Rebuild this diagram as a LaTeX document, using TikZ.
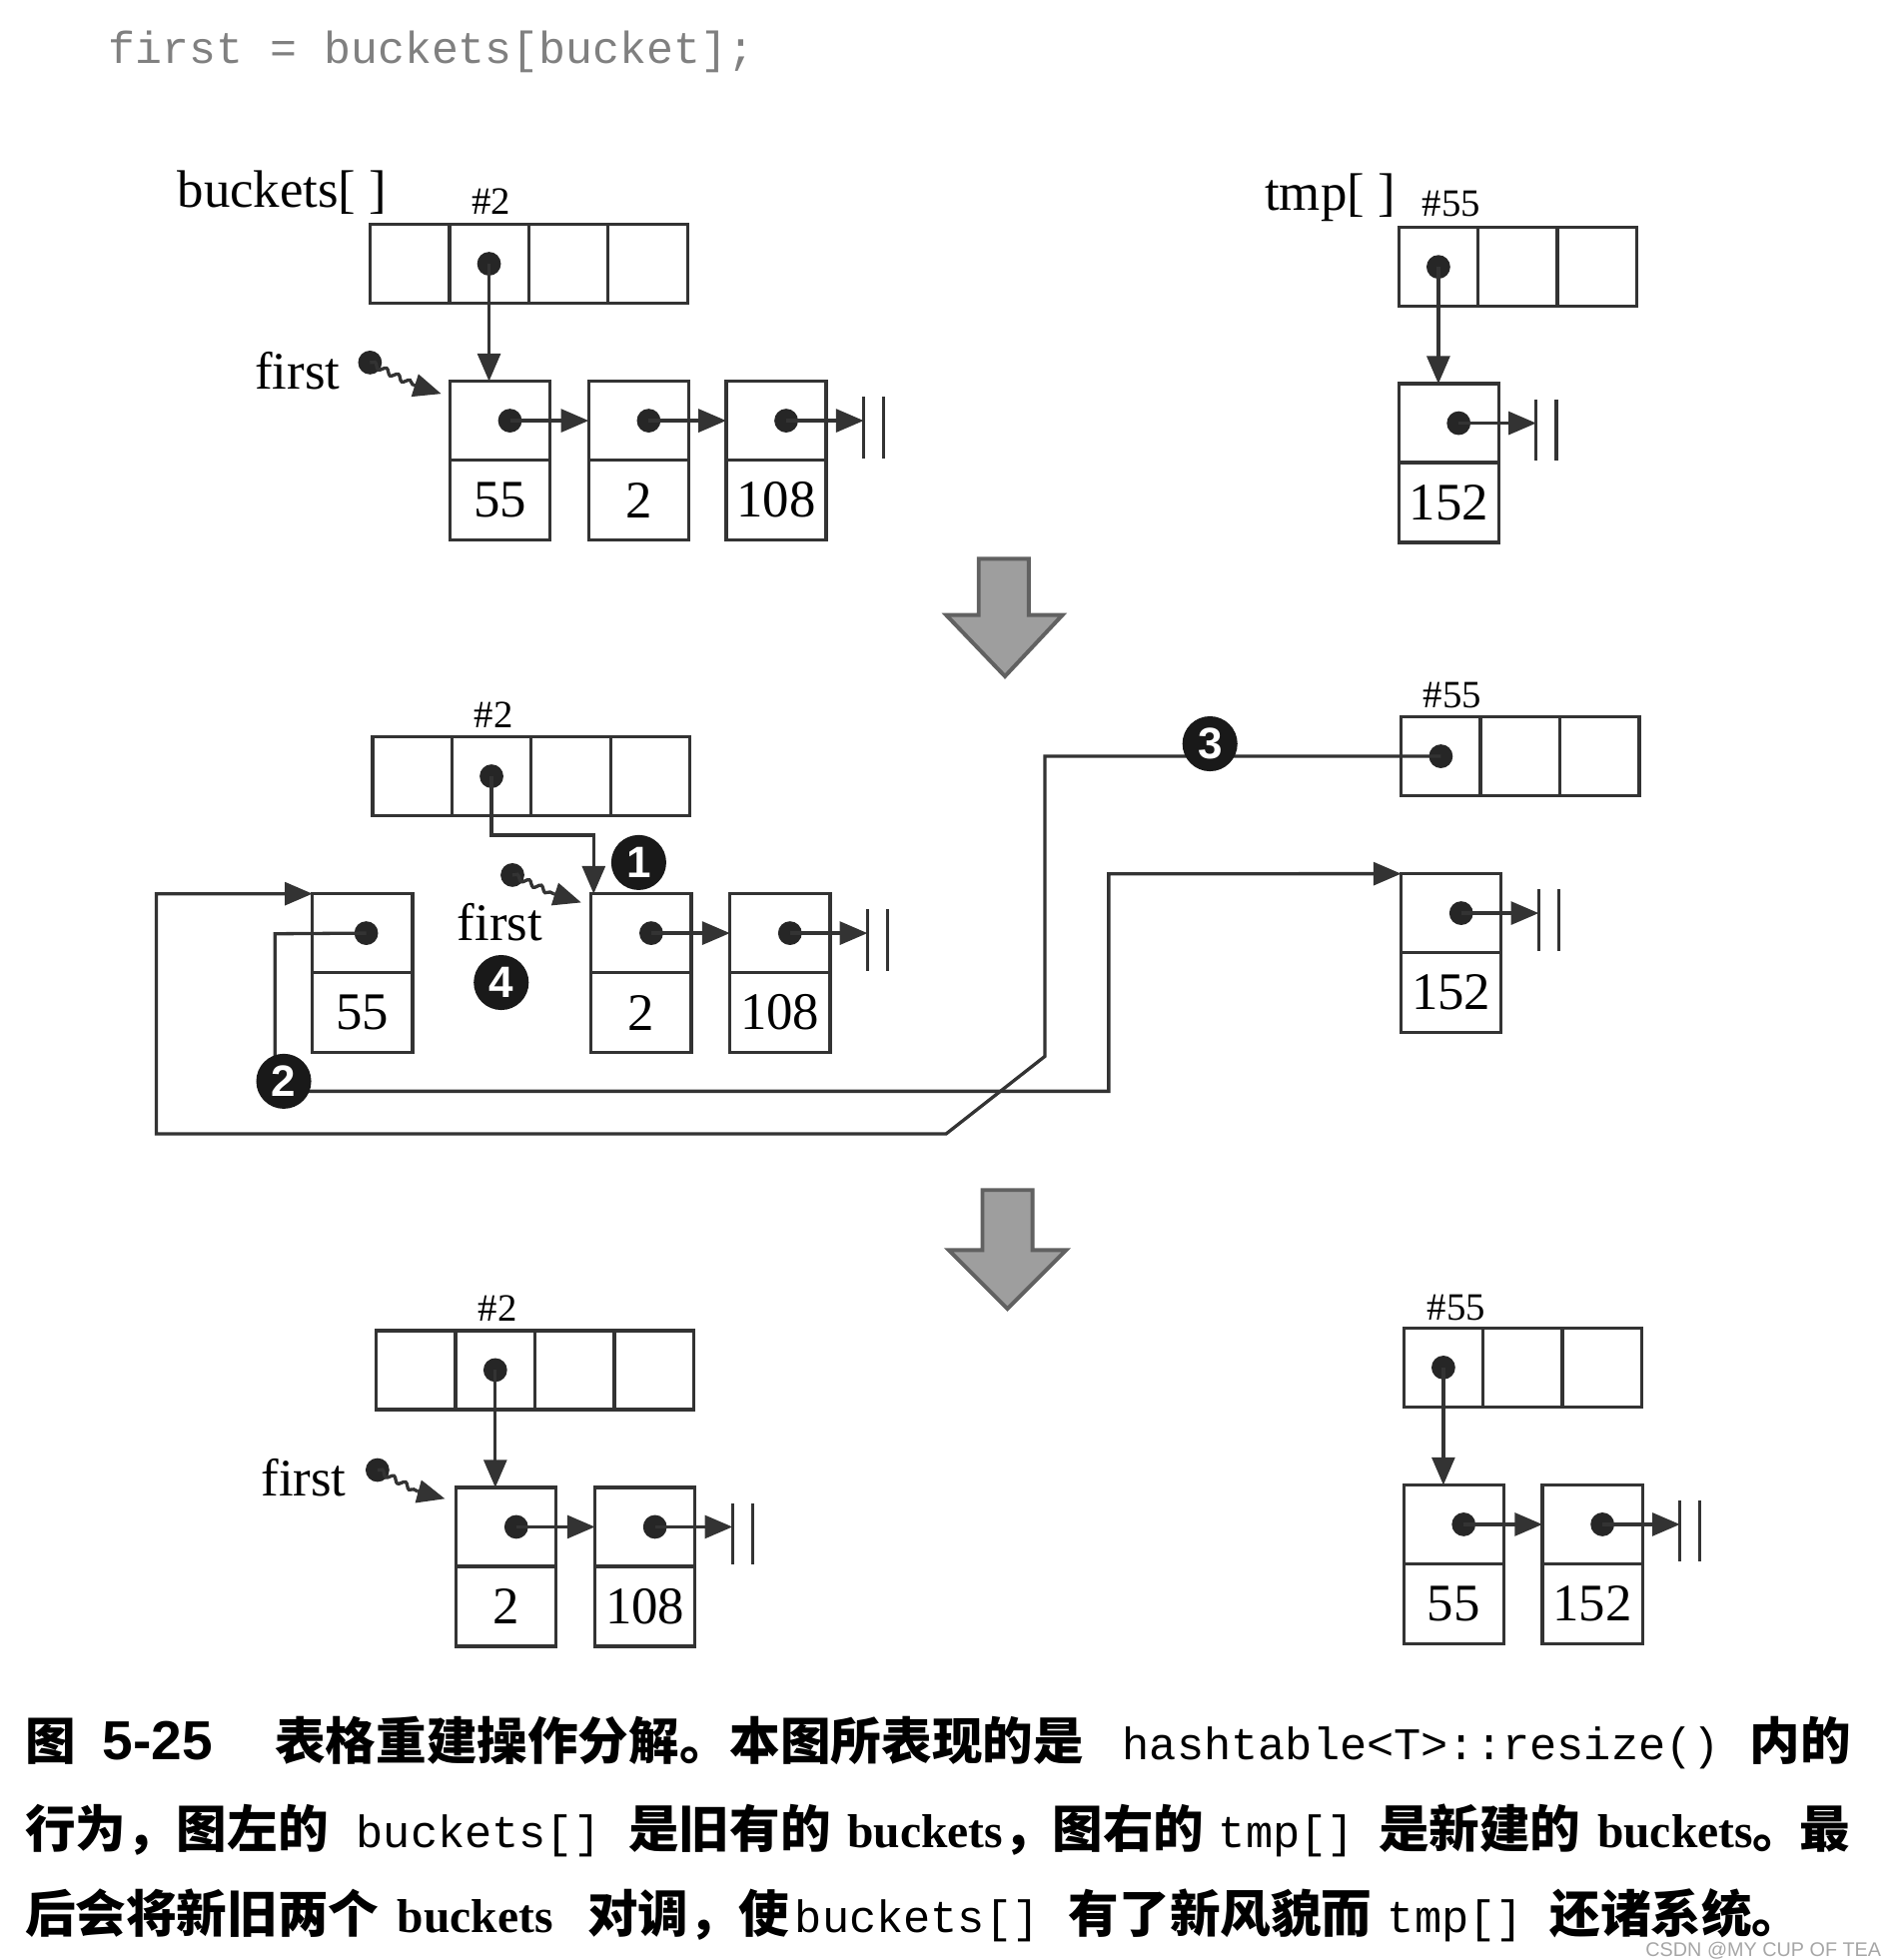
\documentclass[tikz,border=0pt]{standalone}
\usepackage{fontspec}
\setmainfont{Liberation Serif}
\setsansfont{Liberation Sans}
\setmonofont{Liberation Mono}
\newfontfamily\cjk{Noto Sans CJK SC}
\usetikzlibrary{arrows.meta,decorations.pathmorphing,calc}
\newcommand\labfont{\rmfamily\fontsize{12}{14}\selectfont}
\newcommand\hashfont{\rmfamily\fontsize{8.8}{10}\selectfont}
\newcommand\codefont{\ttfamily\fontsize{10.2}{12}\selectfont}
\newcommand\capfont{\cjk\bfseries\fontsize{11.5}{13}\selectfont}
\newcommand\capmono{\ttfamily\fontsize{10.3}{12}\selectfont}
\newcommand\capser{\rmfamily\bfseries\fontsize{10.8}{13}\selectfont}
\begin{document}
\begin{tikzpicture}[x=0.01cm, y=-0.01cm,
  every node/.style={inner sep=0pt, outer sep=0pt},
  ln/.style={draw=black!80, line width=0.75pt},
  cell/.style={ln, minimum width=0.635cm, minimum height=0.63cm},
  ltop/.style={ln, minimum width=0.8cm, minimum height=0.63cm},
  lbot/.style={ln, minimum width=0.8cm, minimum height=0.64cm, font=\labfont},
  dotn/.style={circle, fill=black!85, minimum size=0.19cm},
  ptr/.style={ln, -{Triangle[length=6.3pt,width=5.2pt]}},
  wave/.style={ln, decorate, decoration={snake, amplitude=0.6pt, segment length=3pt}},
  numc/.style={circle, fill=black!90, text=white, minimum size=0.44cm, font=\sffamily\bfseries\fontsize{10}{11}\selectfont},
  bigarr/.style={fill=black!38, draw=black!62, line width=0.9pt},
  captxt/.style={anchor=base west, font=\capfont},
  capmn/.style={anchor=base west, font=\capmono},
  capsr/.style={anchor=base west, font=\capser},
]
\useasboundingbox (0,0) rectangle (1510,1568);

% ---------- code line ----------
\node[anchor=base west, font=\codefont, text=black!50] (code) at (87,51) {first = buckets[bucket];};

% ================= TOP =================
\node[anchor=base west, font=\labfont] (lb1) at (142,166) {buckets[ ]};
\node[font=\hashfont] (h1) at (393,161) {\#2};
\node[cell] (b1a) at (327.75,211) {};
\node[cell] (b1b) at (391.25,211) {};
\node[cell] (b1c) at (454.75,211) {};
\node[cell] (b1d) at (518.25,211) {};
\node[dotn] (b1p) at (b1b) {};

\node[ltop] (t55) at (400,336.5) {};
\node[lbot] (t55v) at (400,400) {55};
\node[ltop] (t2) at (511,336.5) {};
\node[lbot] (t2v) at (511,400) {2};
\node[ltop] (t108) at (621,336.5) {};
\node[lbot] (t108v) at (621,400) {108};
\node[dotn] (t55d) at ($(t55)+(8,0)$) {};
\node[dotn] (t2d) at ($(t2)+(8,0)$) {};
\node[dotn] (t108d) at ($(t108)+(8,0)$) {};
\draw[ptr] (b1p.center) -- (t55.north -| b1p);
\draw[ptr] (t55d.center) -- (t2.west);
\draw[ptr] (t2d.center) -- (t108.west);
\coordinate (t108z) at ($(t108.east)+(30,0)$);
\draw[ptr] (t108d.center) -- (t108z);
\draw[ln] ($(t108z)+(0,-19)$) -- ++(0,49);
\draw[ln] ($(t108z)+(16,-19)$) -- ++(0,49);

\node[font=\labfont] (f1) at (238,297) {first};
\node[dotn] (f1d) at (296,290) {};
\coordinate (f1m) at (331,308);
\coordinate (f1t) at (353,315);
\draw[wave] (f1d.center) -- (f1m);
\draw[ptr] (f1m) -- (f1t);

\node[anchor=base west, font=\labfont] (lt1) at (1012,168) {tmp[ ]};
\node[font=\hashfont] (h55a) at (1161,163) {\#55};
\node[cell] (t1a) at (1150.75,213.5) {};
\node[cell] (t1b) at (1214.25,213.5) {};
\node[cell] (t1c) at (1277.75,213.5) {};
\node[dotn] (t1p) at (t1a) {};
\node[ltop] (u152) at (1159,338.5) {};
\node[lbot] (u152v) at (1159,402) {152};
\node[dotn] (u152d) at ($(u152)+(8,0)$) {};
\draw[ptr] (t1p.center) -- (u152.north -| t1p);
\coordinate (u152z) at ($(u152.east)+(30,0)$);
\draw[ptr] (u152d.center) -- (u152z);
\draw[ln] ($(u152z)+(0,-19)$) -- ++(0,49);
\draw[ln] ($(u152z)+(16,-19)$) -- ++(0,49);

\draw[bigarr] (783,447) -- (823,447) -- (823,492) -- (850,492) -- (804,541) -- (757,492) -- (783,492) -- cycle;

% ================= MIDDLE =================
\node[font=\hashfont] (h2b) at (395,572) {\#2};
\node[cell] (b2a) at (329.75,621) {};
\node[cell] (b2b) at (393.25,621) {};
\node[cell] (b2c) at (456.75,621) {};
\node[cell] (b2d) at (520.25,621) {};
\node[dotn] (b2p) at (b2b) {};

\node[ltop] (m55) at (290,746.5) {};
\node[lbot] (m55v) at (290,810) {55};
\node[ltop] (m2) at (513,746.5) {};
\node[lbot] (m2v) at (513,810) {2};
\node[ltop] (m108) at (624,746.5) {};
\node[lbot] (m108v) at (624,810) {108};
\node[dotn] (m55d) at ($(m55)+(3,0)$) {};
\node[dotn] (m2d) at ($(m2)+(8,0)$) {};
\node[dotn] (m108d) at ($(m108)+(8,0)$) {};
\draw[ptr] (m2d.center) -- (m108.west);
\coordinate (m108z) at ($(m108.east)+(30,0)$);
\draw[ptr] (m108d.center) -- (m108z);
\draw[ln] ($(m108z)+(0,-19)$) -- ++(0,49);
\draw[ln] ($(m108z)+(16,-19)$) -- ++(0,49);

\coordinate (m2in) at ($(m2.north west)+(2,0)$);
\draw[ptr] (b2p.center) |- ($(m2in)+(0,-47)$) -- (m2in);

\node[font=\labfont] (f2) at (400,738) {first};
\node[dotn] (f2d) at (410,700) {};
\coordinate (f2m) at (443,715);
\coordinate (f2t) at (465,722);
\draw[wave] (f2d.center) -- (f2m);
\draw[ptr] (f2m) -- (f2t);

\node[font=\hashfont] (h55b) at (1162,556) {\#55};
\node[cell] (t2a) at (1152.75,605) {};
\node[cell] (t2b) at (1216.25,605) {};
\node[cell] (t2c) at (1279.75,605) {};
\node[dotn] (t2p) at (t2a) {};
\node[ltop] (m152) at (1161,730.5) {};
\node[lbot] (m152v) at (1161,794) {152};
\node[dotn] (m152d) at ($(m152)+(8,0)$) {};
\coordinate (m152z) at ($(m152.east)+(30,0)$);
\draw[ptr] (m152d.center) -- (m152z);
\draw[ln] ($(m152z)+(0,-19)$) -- ++(0,49);
\draw[ln] ($(m152z)+(16,-19)$) -- ++(0,49);

% connector 2 : 55 -> 152
\draw[ln] (m55d.center) -- (220,747) -- (220,850);
\draw[ptr] (226,873) -- (887,873) -- (887,699) -- (m152.north west);
% connector 3 : tmp[55] -> 55
\draw[ptr] (t2p.center) -- (836,605) -- (836,845) -- (757,907) -- (125,907) -- (125,715) -- (m55.north west);

\node[numc] (c1) at (511,690) {1};
\node[numc] (c2) at (227,865) {2};
\node[numc] (c3) at (968,595) {3};
\node[numc] (c4) at (401,786) {4};

\draw[bigarr] (786,952) -- (826,952) -- (826,1000) -- (853,1000) -- (806,1047) -- (759,1000) -- (786,1000) -- cycle;

% ================= BOTTOM =================
\node[font=\hashfont] (h2c) at (398,1047) {\#2};
\node[cell] (b3a) at (332.75,1096) {};
\node[cell] (b3b) at (396.25,1096) {};
\node[cell] (b3c) at (459.75,1096) {};
\node[cell] (b3d) at (523.25,1096) {};
\node[dotn] (b3p) at (b3b) {};
\node[ltop] (n2) at (405,1221.5) {};
\node[lbot] (n2v) at (405,1285) {2};
\node[ltop] (n108) at (516,1221.5) {};
\node[lbot] (n108v) at (516,1285) {108};
\node[dotn] (n2d) at ($(n2)+(8,0)$) {};
\node[dotn] (n108d) at ($(n108)+(8,0)$) {};
\draw[ptr] (b3p.center) -- (n2.north -| b3p);
\draw[ptr] (n2d.center) -- (n108.west);
\coordinate (n108z) at ($(n108.east)+(30,0)$);
\draw[ptr] (n108d.center) -- (n108z);
\draw[ln] ($(n108z)+(0,-19)$) -- ++(0,49);
\draw[ln] ($(n108z)+(16,-19)$) -- ++(0,49);

\node[font=\labfont] (f3) at (243,1182) {first};
\node[dotn] (f3d) at (302,1176) {};
\coordinate (f3m) at (334,1193);
\coordinate (f3t) at (356,1199);
\draw[wave] (f3d.center) -- (f3m);
\draw[ptr] (f3m) -- (f3t);

\node[font=\hashfont] (h55c) at (1165,1046) {\#55};
\node[cell] (t3a) at (1154.75,1094) {};
\node[cell] (t3b) at (1218.25,1094) {};
\node[cell] (t3c) at (1281.75,1094) {};
\node[dotn] (t3p) at (t3a) {};
\node[ltop] (n55) at (1163,1219.5) {};
\node[lbot] (n55v) at (1163,1283) {55};
\node[ltop] (n152) at (1274,1219.5) {};
\node[lbot] (n152v) at (1274,1283) {152};
\node[dotn] (n55d) at ($(n55)+(8,0)$) {};
\node[dotn] (n152d) at ($(n152)+(8,0)$) {};
\draw[ptr] (t3p.center) -- (n55.north -| t3p);
\draw[ptr] (n55d.center) -- (n152.west);
\coordinate (n152z) at ($(n152.east)+(30,0)$);
\draw[ptr] (n152d.center) -- (n152z);
\draw[ln] ($(n152z)+(0,-19)$) -- ++(0,49);
\draw[ln] ($(n152z)+(16,-19)$) -- ++(0,49);

% ================= CAPTION =================
\node[captxt] (k1a) at (20,1408) {图};
\node[anchor=base west, font=\sffamily\bfseries\fontsize{12.5}{14}\selectfont] (k1b) at (82,1408) {5-25};
\node[captxt] (k1c) at (220,1408) {表格重建操作分解。本图所表现的是};
\node[capmn] (k1d) at (898,1408) {hashtable<T>::resize()};
\node[captxt] (k1e) at (1400,1408) {内的};

\node[captxt] (k2a) at (20,1478) {行为，图左的};
\node[capmn] (k2b) at (285,1478) {buckets[]};
\node[captxt] (k2c) at (503,1478) {是旧有的};
\node[capsr] (k2d) at (678,1478) {buckets{\capfont ，}};
\node[captxt] (k2e) at (842,1478) {图右的};
\node[capmn] (k2f) at (975,1478) {tmp[]};
\node[captxt] (k2g) at (1103,1478) {是新建的};
\node[capsr] (k2h) at (1278,1478) {buckets{\capfont 。}};
\node[captxt] (k2i) at (1440,1478) {最};

\node[captxt] (k3a) at (20,1546) {后会将新旧两个};
\node[capsr] (k3b) at (318,1546) {buckets};
\node[captxt] (k3c) at (470,1546) {对调，使};
\node[capmn] (k3d) at (636,1546) {buckets[]};
\node[captxt] (k3e) at (855,1546) {有了新风貌而};
\node[capmn] (k3f) at (1110,1546) {tmp[]};
\node[captxt] (k3g) at (1240,1546) {还诸系统。};

\node[anchor=base east, text=black!35, font=\sffamily\fontsize{4.5}{5}\selectfont] (wm) at (1505,1565) {CSDN @MY CUP OF TEA};
\end{tikzpicture}
\end{document}
